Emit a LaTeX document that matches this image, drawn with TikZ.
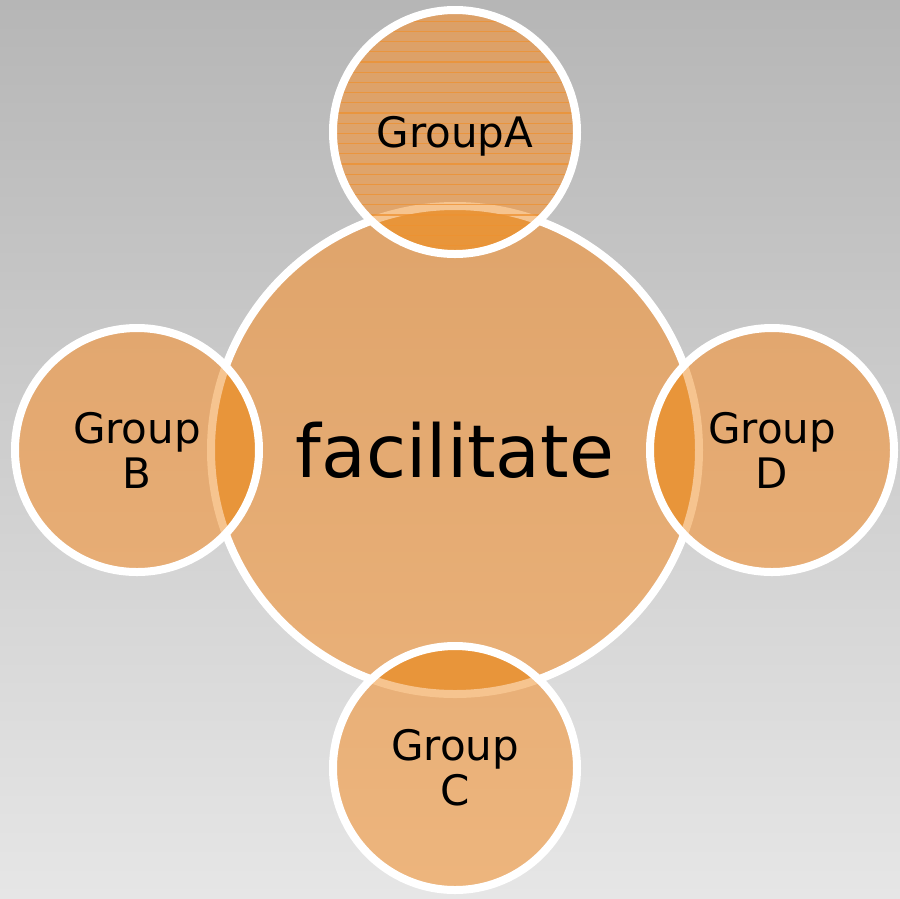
\documentclass[tikz,border=0pt]{standalone}
\usepackage{fontspec}
\setmainfont{DejaVu Sans}
\definecolor{bgtop}{RGB}{182,182,182}
\definecolor{bgbot}{RGB}{230,230,230}
\definecolor{ovl}{RGB}{232,149,58}
\definecolor{faint}{RGB}{246,196,143}
\definecolor{stripe}{RGB}{238,145,48}
\definecolor{ftop}{RGB}{223,164,107}
\definecolor{fbot}{RGB}{233,176,120}
\definecolor{atop}{RGB}{220,160,103}
\definecolor{abot}{RGB}{225,166,109}
\definecolor{mtop}{RGB}{226,167,111}
\definecolor{mbot}{RGB}{231,173,117}
\definecolor{ctop}{RGB}{232,175,119}
\definecolor{cbot}{RGB}{237,181,125}
\begin{document}
\begin{tikzpicture}[x=1pt,y=-1pt,
  sat/.style={circle, minimum size=244pt, inner sep=0pt, draw=white, line width=8pt,
    align=center, font=\fontsize{42}{45}\selectfont},
  big/.style={circle, minimum size=488pt, inner sep=0pt, draw=white, line width=8pt,
    top color=ftop, bottom color=fbot, font=\fontsize{73}{80}\selectfont},
  ovlfill/.style={fill=ovl},
  ovlring/.style={draw=faint, line width=8pt},
  stripeline/.style={draw=stripe, line width=1.2pt, opacity=0.75}
]
\useasboundingbox (0,0) rectangle (900,898);
\shade[top color=bgtop, bottom color=bgbot] (0,0) rectangle (900,898);

% central circle
\node[big] (F) at (455,450) {facilitate};

% satellite fills
\shade[top color=atop, bottom color=abot] (455,132) circle (122);
\shade[top color=mtop, bottom color=mbot] (137,450) circle (122);
\shade[top color=mtop, bottom color=mbot] (772,450) circle (122);
\shade[top color=ctop, bottom color=cbot] (455,768) circle (122);

% overlaps
\foreach \cx/\cy in {455/132, 137/450, 772/450, 455/768}{
  \begin{scope}
    \clip (\cx,\cy) circle (122);
    \path[ovlfill] (F.center) circle (244);
    \path[ovlring] (F.center) circle (244);
  \end{scope}
}

% stripes in Group A
\begin{scope}
  \clip (455,132) circle (122);
  \foreach \k in {0,...,24}{
    \path[stripeline] (320,{11+10.2*\k}) -- (590,{11+10.2*\k});
  }
\end{scope}

% satellite nodes
\node[sat, text depth=0pt] (A) at (455,132) {GroupA};
\node[sat] (B) at (137,450) {Group\\B};
\node[sat] (D) at (772,450) {Group\\D};
\node[sat] (C) at (455,768) {Group\\C};
\end{tikzpicture}
\end{document}
